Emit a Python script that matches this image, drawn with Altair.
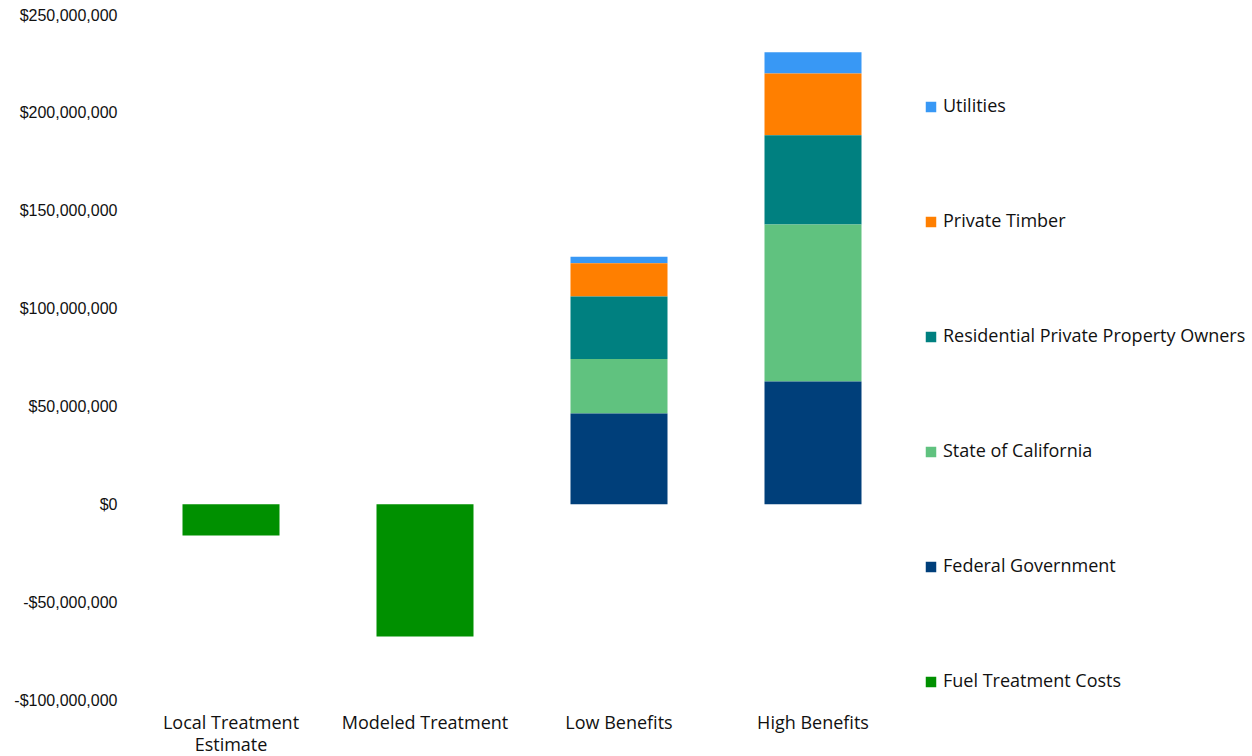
import altair as alt
import pandas as pd

categories = ["Local Treatment Estimate", "Modeled Treatment", "Low Benefits", "High Benefits"]
series = ["Utilities", "Private Timber", "Residential Private Property Owners",
          "State of California", "Federal Government", "Fuel Treatment Costs"]
colors = ["#3898f5", "#ff7f00", "#008080", "#60c27f", "#003f7a", "#009000"]
stack_order = [5, 4, 3, 2, 1, 0]

# values in dollars, per series per category
fuel_costs = [-16.0e6, -67.5e6, 0, 0]
federal = [0, 0, 46.4e6, 62.8e6]
state = [0, 0, 27.8e6, 80.2e6]
residential = [0, 0, 32.0e6, 45.5e6]
timber = [0, 0, 16.9e6, 31.6e6]
utilities = [0, 0, 3.4e6, 10.9e6]

values = {
    "Utilities": utilities,
    "Private Timber": timber,
    "Residential Private Property Owners": residential,
    "State of California": state,
    "Federal Government": federal,
    "Fuel Treatment Costs": fuel_costs,
}
y_ticks = [-100e6, -50e6, 0, 50e6, 100e6, 150e6, 200e6, 250e6]

rows = []
for s, o in zip(series, stack_order):
    for c, v in zip(categories, values[s]):
        if v != 0:
            rows.append({"category": c, "series": s, "value": v, "ord": o})
df = pd.DataFrame(rows)

chart = alt.Chart(df).mark_bar(size=97).encode(
    x=alt.X("category:N", sort=categories, title=None,
            scale=alt.Scale(paddingInner=0.5, paddingOuter=0.25),
            axis=alt.Axis(labelAngle=0, domain=False, ticks=False, labelPadding=14,
                          labelFont="Open Sans", labelFontSize=18, labelColor="#111111",
                          labelLineHeight=22,
                          labelExpr="datum.value == 'Local Treatment Estimate' ? ['Local Treatment', 'Estimate'] : datum.value")),
    y=alt.Y("sum(value):Q", title=None, stack="zero",
            scale=alt.Scale(domain=[-100e6, 250e6], nice=False),
            axis=alt.Axis(values=y_ticks, grid=False, domain=False, ticks=False, labelPadding=17,
                          labelFont="Liberation Sans", labelFontSize=16, labelColor="#111111",
                          labelExpr="(datum.value < 0 ? '-' : '') + '$' + format(abs(datum.value), ',.0f')")),
    color=alt.Color("series:N", scale=alt.Scale(domain=series, range=colors), title=None,
                    legend=alt.Legend(orient="none", legendX=788, legendY=83, padding=0,
                                      symbolType="square", symbolSize=110, symbolStrokeWidth=0,
                                      labelFont="Open Sans", labelFontSize=18, labelColor="#111111",
                                      labelOffset=3, rowPadding=97, labelLimit=400)),
    order=alt.Order("ord:Q", sort="ascending"),
).properties(
    width=776, height=685,
    autosize=alt.AutoSizeParams(type="none"),
    padding={"left": 134, "top": 15, "right": 342, "bottom": 56},
).configure(background="white").configure_view(stroke=None)

chart.save("out.html", embed_options={"renderer": "svg", "actions": False})
